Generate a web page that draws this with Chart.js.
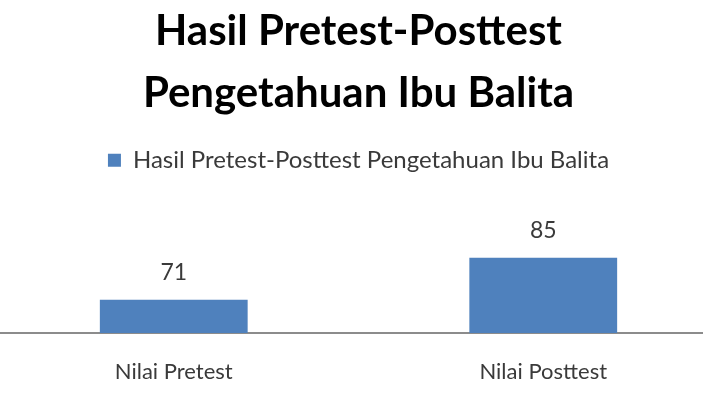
<!DOCTYPE html>
<html lang="id">
<head>
    <meta charset="UTF-8">
    <title>Hasil Pretest-Posttest</title>
    <style>
        html, body { margin: 0; padding: 0; background: #fff; overflow: hidden; }
        #wrap { position: absolute; left: -11px; top: 0; width: 739px; height: 399px; }
    </style>
</head>
<body>
    <div id="wrap">
        <canvas id="myChart"></canvas>
    </div>
<script src="https://cdn.jsdelivr.net/npm/chart.js"></script>
<script>
    // data
    const categories = ['Nilai Pretest', 'Nilai Posttest'];
    const nilai = [71, 85];
    const seriesName = 'Hasil Pretest-Posttest Pengetahuan Ibu Balita';
    const titleLines = ['Hasil Pretest-Posttest', 'Pengetahuan Ibu Balita'];

    const textGray = '#3a3a3a';

    // draws the value above each bar
    const valueLabels = {
        id: 'valueLabels',
        afterDatasetsDraw(chart) {
            const ctx = chart.ctx;
            ctx.save();
            ctx.font = '23px Lato';
            ctx.fillStyle = textGray;
            ctx.textAlign = 'center';
            ctx.textBaseline = 'alphabetic';
            chart.getDatasetMeta(0).data.forEach((bar, i) => {
                ctx.fillText(chart.data.datasets[0].data[i], bar.x, bar.y - 20);
            });
            ctx.restore();
        }
    };

    const config = {
        type: 'bar',
        data: {
            labels: categories,
            datasets: [{
                label: seriesName,
                data: nilai,
                backgroundColor: '#4F81BD',
                borderWidth: 0,
                barPercentage: 0.4,
                categoryPercentage: 1.0
            }]
        },
        options: {
            responsive: true,
            maintainAspectRatio: false,
            animation: false,
            layout: { padding: 0 },
            plugins: {
                title: {
                    display: true,
                    text: titleLines,
                    color: '#000',
                    font: { family: 'Lato', size: 42, weight: 'bold', lineHeight: 1.48 },
                    padding: { top: 0, bottom: 14 }
                },
                legend: {
                    display: true,
                    labels: {
                        color: textGray,
                        font: { family: 'Lato', size: 24 },
                        boxWidth: 13,
                        boxHeight: 13,
                        padding: 10
                    }
                },
                tooltip: { enabled: false }
            },
            scales: {
                x: {
                    grid: { display: false },
                    border: { display: true, color: '#8c8c8c', width: 2 },
                    ticks: {
                        color: textGray,
                        font: { family: 'Lato', size: 22 },
                        padding: 18
                    },
                    afterFit(scale) { scale.height = 66; }
                },
                y: {
                    display: false,
                    min: 60,
                    max: 110
                }
            }
        },
        plugins: [valueLabels]
    };

    const myChart = new Chart(document.getElementById('myChart'), config);
</script>
</body>
</html>
